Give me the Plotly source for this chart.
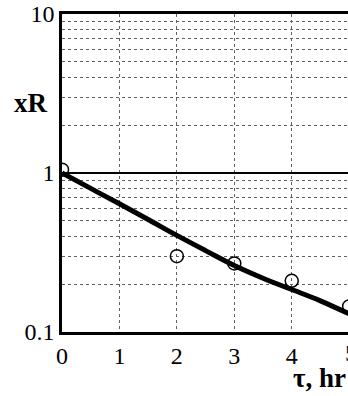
import plotly.graph_objects as go

# Measured conversion fraction vs. residence time
tau_points = [0, 2, 3, 4, 5]
xr_points = [1.05, 0.30, 0.27, 0.21, 0.145]

# Fitted model curve
tau_curve = [0, 0.5, 1, 1.5, 2, 2.5, 3, 3.5, 4, 4.5, 5]
xr_curve = [1.0, 0.80, 0.64, 0.51, 0.405, 0.325, 0.262, 0.218, 0.185, 0.157, 0.13]

# Axis ticks
x_ticks = [0, 1, 2, 3, 4, 5]
y_grid = [0.1, 0.2, 0.3, 0.4, 0.5, 0.6, 0.7, 0.8, 0.9,
          1, 2, 3, 4, 5, 6, 7, 8, 9, 10]
y_labels = {0.1: "0.1", 1: "1", 10: "10"}

SERIF = "Liberation Serif, Times New Roman, serif"

fig = go.Figure()
fig.add_trace(go.Scatter(
    x=tau_curve, y=xr_curve, mode="lines",
    line=dict(color="black", width=5, shape="spline", smoothing=1.0),
    showlegend=False,
))
fig.add_trace(go.Scatter(
    x=tau_points, y=xr_points, mode="markers",
    marker=dict(symbol="circle-open", size=13, color="black",
                line=dict(color="black", width=1.5)),
    showlegend=False,
))

# Solid reference line at xR = 1
fig.add_shape(type="line", xref="paper", yref="y", x0=0, x1=1, y0=1, y1=1,
              line=dict(color="black", width=2))

fig.update_xaxes(
    range=[0, 4.98], tickvals=x_ticks, ticktext=[str(v) for v in x_ticks],
    showline=True, linecolor="black", linewidth=2.5, mirror=True,
    showgrid=True, gridcolor="#606060", gridwidth=1, griddash="dot",
    zeroline=False, ticks="",
    tickfont=dict(family=SERIF, size=24, color="black"),
)
fig.update_yaxes(
    type="log", range=[-1, 1], tickvals=y_grid,
    ticktext=[y_labels.get(v, "") for v in y_grid],
    showline=True, linecolor="black", linewidth=2.5,
    showgrid=True, gridcolor="#606060", gridwidth=1, griddash="dot",
    zeroline=False, ticks="",
    tickfont=dict(family=SERIF, size=24, color="black"),
)

fig.add_annotation(text="<b>xR</b>", xref="paper", yref="paper",
                   x=-0.108, y=0.72, xanchor="center", yanchor="middle",
                   showarrow=False,
                   font=dict(family=SERIF, size=27, color="black"))
# Partially visible "5" tick label at the cropped right edge
fig.add_annotation(text="5", xref="paper", yref="paper",
                   x=1.012, y=-0.066, xanchor="center", yanchor="middle",
                   showarrow=False,
                   font=dict(family=SERIF, size=24, color="black"))
fig.add_annotation(text="<b>τ, hr</b>", xref="paper", yref="paper",
                   x=0.800, y=-0.145, xanchor="left", yanchor="middle",
                   showarrow=False,
                   font=dict(family=SERIF, size=27, color="black"))

fig.update_layout(
    width=348, height=396,
    margin=dict(l=62, r=0, t=14, b=64),
    paper_bgcolor="white", plot_bgcolor="white",
)

fig.write_html("out.html")
